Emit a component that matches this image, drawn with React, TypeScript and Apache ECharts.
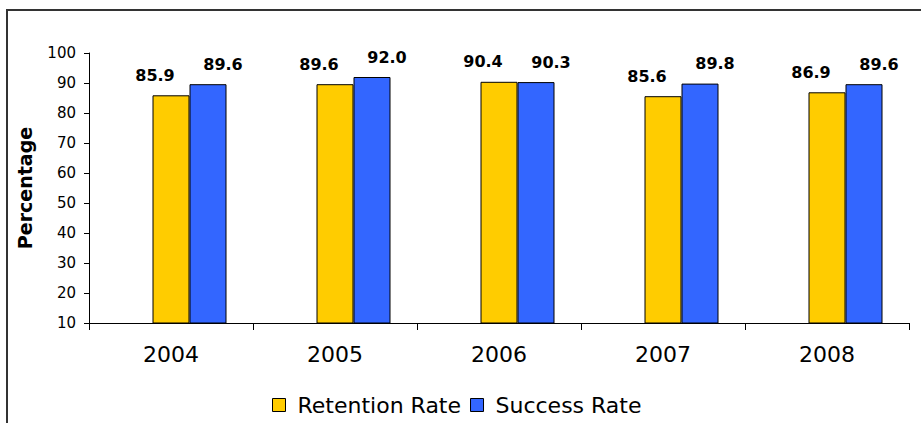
import React, { useEffect, useRef } from "react";
import * as echarts from "echarts";

const years = ["2004", "2005", "2006", "2007", "2008"];
const retentionRate = [85.9, 89.6, 90.4, 85.6, 86.9];
const successRate = [89.6, 92.0, 90.3, 89.8, 89.6];
const spacer = [null, null, null, null, null];

const FONT = "DejaVu Sans";

export default function App() {
  const ref = useRef<HTMLDivElement>(null);
  useEffect(() => {
    if (!ref.current) return;
    const chart = echarts.init(ref.current, null, { renderer: "svg" });
    const valueLabel = (dx: number) => ({
      show: true,
      position: "top" as const,
      distance: 12,
      offset: [dx, 0],
      color: "#000",
      fontFamily: FONT,
      fontWeight: "bold" as const,
      fontSize: 16,
      formatter: (p: any) => Number(p.value).toFixed(1),
    });
    chart.setOption({
      animation: false,
      backgroundColor: "#fff",
      graphic: [
        {
          type: "rect",
          shape: { x: 7, y: 10, width: 930, height: 440 },
          style: { fill: "none", stroke: "#333", lineWidth: 2 },
          silent: true,
        },
      ],
      grid: { left: 89, top: 53, right: 12, bottom: 100 },
      legend: {
        data: ["Retention Rate", "Success Rate"],
        left: 272,
        top: 394,
        padding: 0,
        itemWidth: 13,
        itemHeight: 13,
        itemGap: 9,
        icon: "rect",
        itemStyle: { borderColor: "#000", borderWidth: 1 },
        textStyle: {
          fontFamily: FONT,
          fontSize: 22,
          color: "#000",
          padding: [0, 0, 0, 7],
        },
      },
      xAxis: {
        type: "category",
        data: years,
        axisLine: { lineStyle: { color: "#000", width: 1 } },
        axisTick: { show: true, length: 7, lineStyle: { color: "#000" } },
        axisLabel: {
          fontFamily: FONT,
          fontSize: 22,
          color: "#000",
          margin: 20,
        },
      },
      yAxis: {
        type: "value",
        min: 10,
        max: 100,
        interval: 10,
        name: "Percentage",
        nameLocation: "middle",
        nameRotate: 90,
        nameGap: 55,
        nameTextStyle: {
          fontFamily: FONT,
          fontSize: 19,
          fontWeight: "bold",
          color: "#000",
        },
        splitLine: { show: false },
        axisLine: { show: true, lineStyle: { color: "#000", width: 1 } },
        axisTick: { show: true, length: 5, lineStyle: { color: "#000" } },
        axisLabel: {
          fontFamily: FONT,
          fontSize: 15,
          color: "#000",
          margin: 13,
        },
      },
      series: [
        {
          name: "spacer",
          type: "bar",
          data: spacer,
          barWidth: 37,
          barGap: "0%",
          silent: true,
          itemStyle: { color: "transparent" },
        },
        {
          name: "Retention Rate",
          type: "bar",
          data: retentionRate,
          barWidth: 37,
          barGap: "0%",
          itemStyle: { color: "#FFCC00", borderColor: "#000", borderWidth: 1 },
          label: valueLabel(-16),
        },
        {
          name: "Success Rate",
          type: "bar",
          data: successRate,
          barWidth: 37,
          barGap: "0%",
          itemStyle: { color: "#3366FF", borderColor: "#000", borderWidth: 1 },
          label: valueLabel(15),
        },
      ],
    });
    return () => chart.dispose();
  }, []);
  return (
    <div
      ref={ref}
      style={{ position: "fixed", left: 0, top: 0, width: 921, height: 423 }}
    />
  );
}
